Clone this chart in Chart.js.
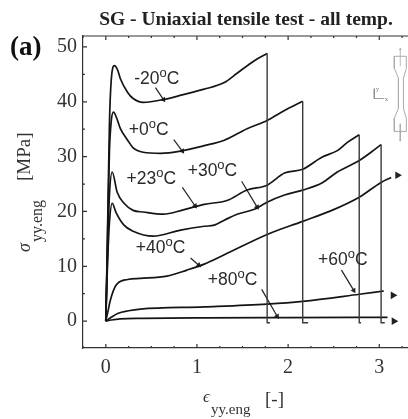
<!DOCTYPE html>
<html>
<head>
<meta charset="utf-8">
<title>SG - Uniaxial tensile test</title>
<script src="https://cdn.jsdelivr.net/npm/chart.js@4"></script>
<style>
    html, body { margin: 0; padding: 0; background: #fff; overflow: hidden; }
    canvas { display: block; }
</style>
</head>
<body>
<canvas id="chart" width="408" height="419"></canvas>
<script>
// Curves: strain [-] / stress [MPa]
const strainM20 = [0, 0.012, 0.025, 0.04, 0.06, 0.095, 0.13, 0.16, 0.24, 0.30, 0.41, 0.63, 0.85, 1.08, 1.3, 1.44, 1.63, 1.77];
const stressM20 = [0, 10, 22, 36, 44, 46.6, 45.8, 44.2, 41.7, 40.6, 39.9, 40.4, 41.3, 42.3, 43.5, 45.2, 47.5, 48.8];

const strainP0 = [0, 0.012, 0.025, 0.04, 0.06, 0.085, 0.12, 0.16, 0.24, 0.3, 0.41, 0.6, 0.82, 1.08, 1.3, 1.55, 1.77, 1.96, 2.16];
const stressP0 = [0, 9, 20, 31, 36.5, 38.1, 37, 35.1, 33, 31.6, 30.8, 30.6, 31, 32, 33, 35.1, 36.6, 38.4, 40.1];

const strainP23 = [0, 0.012, 0.025, 0.04, 0.07, 0.125, 0.2, 0.3, 0.41, 0.63, 0.85, 1.08, 1.33, 1.55, 1.77, 1.96, 2.16, 2.37, 2.54, 2.65, 2.78];
const stressP23 = [0, 8, 16, 23, 27.2, 23.5, 21.5, 20.2, 19.9, 19.5, 20.3, 21.3, 22, 23.9, 24.8, 27, 27.7, 29.9, 31.1, 32.6, 34];

const strainP30 = [0, 0.012, 0.025, 0.04, 0.07, 0.11, 0.2, 0.3, 0.52, 0.82, 1.08, 1.19, 1.3, 1.44, 1.63, 1.77, 1.96, 2.16, 2.37, 2.54, 2.78, 2.91, 3.02];
const stressP30 = [0, 7, 13, 18, 21.5, 19.9, 17.5, 16.4, 15.5, 16.6, 17.3, 17.5, 18.4, 19.5, 20.4, 21.7, 23, 23.9, 25.2, 27.2, 29.3, 30.8, 32.2];

const strainP40 = [0, 0.02, 0.05, 0.11, 0.24, 0.38, 0.67, 0.89, 1.08, 1.3, 1.77, 2.16, 2.48, 2.78, 3.02, 3.13];
const stressP40 = [0, 1.5, 3.8, 6.5, 7.6, 7.8, 8.2, 9.3, 10.4, 12.1, 15.8, 18.2, 20.2, 22.6, 25.3, 26.2];

const strainP60 = [0, 0.06, 0.13, 0.25, 0.38, 1.08, 1.77, 2.16, 2.78, 3.05];
const stressP60 = [0, 0.7, 1.4, 1.9, 2.2, 2.6, 3.1, 3.6, 4.9, 5.5];

const strainP80 = [0, 0.06, 0.16, 0.4, 1.08, 2, 3.09];
const stressP80 = [0, 0.2, 0.4, 0.5, 0.6, 0.65, 0.7];

// Vertical drops after rupture, with the small foot at the bottom
const dropStrain = [[1.77, 1.77, 1.8], [2.16, 2.16, 2.22], [2.78, 2.78, 2.8], [3.02, 3.02, 3.06]];
const dropStress = [[48.8, -0.3, -0.3], [40.1, -0.3, -0.3], [34, -0.3, -0.3], [32.2, -0.3, -0.3]];

// Temperature labels and their leader arrows
const tempLabels = ['-20', '+0', '+23', '+30', '+40', '+60', '+80'];
const labelStrain = [0.56, 0.47, 0.50, 1.17, 0.60, 2.60, 1.39];
const labelStress = [43.3, 33.9, 25.1, 26.4, 12.5, 10.2, 6.5];
const arrowStrain = [[0.545, 0.633], [0.745, 0.84], [0.84, 0.98], [1.49, 1.66], [0.93, 1.02], [2.585, 2.72], [1.71, 1.88]];
const arrowStress = [[42.6, 40.4], [33.1, 31], [24.4, 21], [25.5, 20.8], [11.5, 10.2], [9.3, 5.6], [5.8, 0.9]];
const arrowAngle = [146, 146, 145, 149, 131, 149, 149];

// Arrowheads past the end of the curves
const endStrain = [3.2, 3.15, 3.16];
const endStress = [26.6, 4.7, 0];

// Specimen sketch, top right
const specimenX = [3.165, 3.165, 3.21, 3.21, 3.165, 3.165, 3.297, 3.297, 3.265, 3.265, 3.297, 3.297, 3.165];
const specimenY = [48.3, 46.1, 44.3, 38.8, 37, 34.6, 34.6, 37, 38.8, 44.3, 46.1, 48.3, 48.3];
const specimenArrowX = [[3.23, 3.23], [3.23, 3.23]];
const specimenArrowY = [[46.5, 49.6], [36, 33]];
const frameX = [2.945, 2.945, 3.055];
const frameY = [42.4, 40.6, 40.6];

const curves = [
    [strainM20, stressM20], [strainP0, stressP0], [strainP23, stressP23], [strainP30, stressP30],
    [strainP40, stressP40], [strainP60, stressP60], [strainP80, stressP80]
];

function zip(xs, ys) {
    return xs.map((x, i) => ({ x: x, y: ys[i] }));
}

const datasets = [];

dropStrain.forEach((xs, i) => {
    datasets.push({ data: zip(xs, dropStress[i]), borderColor: '#3a3a3a', borderWidth: 1.4, pointRadius: 0, tension: 0 });
});

curves.forEach(c => {
    datasets.push({ data: zip(c[0], c[1]), borderColor: '#151515', borderWidth: 1.7, pointRadius: 0, cubicInterpolationMode: 'monotone' });
});

arrowStrain.forEach((xs, i) => {
    datasets.push({
        data: zip(xs, arrowStress[i]), borderColor: '#222', backgroundColor: '#222', borderWidth: 1.2,
        pointStyle: 'triangle', pointRadius: [0, 3.2], pointRotation: arrowAngle[i], pointBorderWidth: 0, tension: 0
    });
});

datasets.push({
    data: zip(endStrain, endStress), showLine: false, backgroundColor: '#222', pointStyle: 'triangle',
    pointRadius: 4.4, pointRotation: 90, pointBorderWidth: 0
});

datasets.push({ data: zip(specimenX, specimenY), borderColor: '#aaa', borderWidth: 1, pointRadius: 0, tension: 0 });
specimenArrowX.forEach((xs, i) => {
    datasets.push({
        data: zip(xs, specimenArrowY[i]), borderColor: '#aaa', backgroundColor: '#aaa', borderWidth: 0.8,
        pointStyle: 'triangle', pointRadius: [0, 1.6], pointRotation: i === 0 ? 0 : 180, pointBorderWidth: 0, tension: 0
    });
});
datasets.push({ data: zip(frameX, frameY), borderColor: '#888', borderWidth: 0.8, pointRadius: 0, tension: 0 });

// Inward ticks, top border and every label the axes cannot do themselves
const figureText = {
    id: 'figureText',
    afterDatasetsDraw(chart) {
        const ctx = chart.ctx;
        const xs = chart.scales.x;
        const ys = chart.scales.y;
        const area = chart.chartArea;

        ctx.save();
        ctx.strokeStyle = '#333';
        ctx.lineWidth = 1.2;
        ctx.beginPath();
        ctx.moveTo(area.left, area.top);
        ctx.lineTo(area.right, area.top);
        xs.ticks.forEach(t => {
            const px = xs.getPixelForValue(t.value);
            const len = Number.isInteger(t.value) ? 4 : 2;
            ctx.moveTo(px, area.bottom);
            ctx.lineTo(px, area.bottom - len);
            ctx.moveTo(px, area.top);
            ctx.lineTo(px, area.top + len);
        });
        ys.ticks.forEach(t => {
            const py = ys.getPixelForValue(t.value);
            const len = t.value % 10 === 0 ? 4 : 2;
            ctx.moveTo(area.left, py);
            ctx.lineTo(area.left + len, py);
        });
        ctx.stroke();

        // temperature labels
        ctx.fillStyle = '#2a2a2a';
        ctx.textBaseline = 'alphabetic';
        tempLabels.forEach((lab, i) => {
            const big = '17.5px "Liberation Sans"';
            const small = '13px "Liberation Sans"';
            ctx.font = big;
            const w1 = ctx.measureText(lab).width;
            const w3 = ctx.measureText('C').width;
            ctx.font = small;
            const w2 = ctx.measureText('o').width;
            let px = xs.getPixelForValue(labelStrain[i]) - (w1 + w2 + w3) / 2;
            const py = ys.getPixelForValue(labelStress[i]);
            ctx.textAlign = 'left';
            ctx.font = big;
            ctx.fillText(lab, px, py);
            px += w1;
            ctx.font = small;
            ctx.fillText('o', px, py - 7);
            px += w2;
            ctx.font = big;
            ctx.fillText('C', px, py);
        });

        // title
        ctx.fillStyle = '#222';
        ctx.font = 'bold 19.5px "Liberation Serif"';
        ctx.textAlign = 'center';
        ctx.fillText('SG - Uniaxial tensile test - all temp.', 246, 25);
        ctx.textAlign = 'left';

        // panel letter
        ctx.fillStyle = '#111';
        ctx.font = 'bold 27px "Liberation Serif"';
        ctx.fillText('(a)', 10, 55);

        // x axis title
        ctx.fillStyle = '#333';
        ctx.font = 'italic 17px "Liberation Serif"';
        ctx.fillText('\u03f5', 203, 402);
        ctx.font = '15px "Liberation Serif"';
        ctx.fillText('yy.eng', 211, 414);
        ctx.font = '19px "Liberation Serif"';
        ctx.fillText('[-]', 265, 405);

        // y axis title, rotated
        ctx.save();
        ctx.translate(30, 0);
        ctx.rotate(-Math.PI / 2);
        ctx.font = '19px "Liberation Serif"';
        ctx.fillText('[MPa]', -181, 0);
        ctx.font = 'italic 18px "Liberation Serif"';
        ctx.fillText('\u03c3', -252, 0);
        ctx.font = '16px "Liberation Serif"';
        ctx.fillText('yy.eng', -242, 12);
        ctx.restore();

        // specimen axes letters
        ctx.fillStyle = '#777';
        ctx.font = '6px "Liberation Serif"';
        ctx.fillText('y', 376, 91);
        ctx.fillText('x', 385, 101);
        ctx.restore();
    }
};

new Chart(document.getElementById('chart'), {
    type: 'line',
    data: { datasets: datasets },
    plugins: [figureText],
    options: {
        responsive: false,
        animation: false,
        layout: { autoPadding: false, padding: { top: 36 } },
        plugins: {
            legend: { display: false },
            tooltip: { enabled: false }
        },
        scales: {
            x: {
                type: 'linear',
                min: -0.25,
                max: 3.315,
                afterBuildTicks: s => {
                    s.ticks = [-0.25, 0, 0.25, 0.5, 0.75, 1, 1.25, 1.5, 1.75, 2, 2.25, 2.5, 2.75, 3, 3.25].map(v => ({ value: v }));
                },
                afterFit: s => { s.height = 71; s.paddingRight = 0; s.paddingLeft = 0; },
                grid: { display: false, drawTicks: false },
                border: { display: true, color: '#333', width: 1.2 },
                ticks: {
                    color: '#333',
                    font: { family: '"Liberation Serif"', size: 20 },
                    padding: 8,
                    maxRotation: 0,
                    autoSkip: false,
                    callback: v => Number.isInteger(v) ? String(v) : ''
                }
            },
            y: {
                type: 'linear',
                min: -4.9,
                max: 52,
                afterBuildTicks: s => {
                    s.ticks = [-5, 0, 5, 10, 15, 20, 25, 30, 35, 40, 45, 50].filter(v => v >= s.min).map(v => ({ value: v }));
                },
                afterFit: s => { s.width = 83; s.paddingTop = 0; s.paddingBottom = 0; },
                grid: { display: false, drawTicks: false },
                border: { display: true, color: '#333', width: 1.2 },
                ticks: {
                    color: '#333',
                    font: { family: '"Liberation Serif"', size: 20 },
                    padding: 6,
                    autoSkip: false,
                    callback: v => v % 10 === 0 ? String(v) : ''
                }
            }
        }
    }
});
</script>
</body>
</html>
